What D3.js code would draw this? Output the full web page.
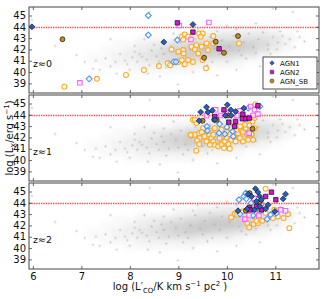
<!DOCTYPE html>
<html><head><meta charset="utf-8">
<script src="https://cdn.jsdelivr.net/npm/d3@7"></script>
<style>body{margin:0;background:#fff}svg{display:block}text{font-family:"DejaVu Sans",sans-serif}</style>
</head><body><svg id="c" width="327" height="299"></svg>
<script>
// ---------- data ----------
const xTicks = [6,7,8,9,10,11];
const yTicks = [39,40,41,42,43,44,45];
const panelLabels = ["z\u22480","z\u22481","z\u22482"];
const xLimit = 44; // red dotted line
// background density (shared by all panels)
const fogCols = [7.0,7.25,7.5,7.75,8.0,8.25,8.5,8.75,9.0,9.25,9.5,9.75,10.0,10.25,10.5,10.75,11.0,11.25,11.5];
const fogRows = [44.0,43.5,43.0,42.5,42.0,41.5,41.0,40.5,40.0];
const fogDensity = [
 [0,0,0,0,0,0,0,0,0,0,0,1,1,1,1,1,1,0,0],
 [0,0,0,0,0,0,0,0,1,1,2,2,3,3,3,3,2,1,0],
 [0,0,0,0,0,1,1,1,2,3,4,5,5,5,5,5,4,2,1],
 [0,0,0,1,1,2,3,4,5,6,7,8,8,8,7,6,4,2,0],
 [0,0,1,1,2,3,4,6,7,8,9,9,9,8,7,5,3,1,0],
 [0,1,1,2,3,4,5,6,7,8,8,7,6,5,4,2,1,0,0],
 [0,1,1,2,2,3,4,5,5,5,4,3,3,2,1,1,0,0,0],
 [0,0,1,1,1,2,2,2,2,2,2,1,1,1,0,0,0,0,0],
 [0,0,0,0,1,1,1,1,1,1,0,0,0,0,0,0,0,0,0]
];
const bgPoints = [[5.98,44.6],[6.46,42.3],[7.07,40.9],[7.38,40.2],[7.73,39.85],[8.37,39.85],[8.99,38.9],[8.41,45.3],[10.95,45.6],[11.36,45.3],[11.03,42.0],[11.3,42.9],[10.68,40.5],[7.6,42.9],[8.25,41.35],[8.0,40.2],[8.62,39.6],[9.3,40.0],[7.24,40.3],[7.9,41.0],[8.1,41.8],[8.5,42.4],[8.8,41.0],[9.1,40.5],[9.6,40.6],[10.0,40.9],[10.4,41.2],[10.9,41.6],[11.2,42.5],[11.5,43.1],[11.1,43.6],[10.6,44.3],[10.0,44.1],[9.4,43.8],[8.9,43.4],[8.3,42.9],[7.8,41.6],[7.5,41.2],[9.8,39.7],[6.9,41.5],[11.6,42.7],[10.2,40.2],
 [8.05,41.3],[8.2,41.6],[8.35,41.1],[8.45,41.9],[8.55,41.4],[8.65,42.1],[8.7,41.6],[8.85,42.3],[8.95,41.8],[9.05,42.6],[9.15,41.4],[9.25,42.0],[9.35,42.9],[9.45,41.7],[9.55,42.4],[9.65,43.1],[9.75,42.1],[9.85,41.6],[9.9,42.8],[10.05,42.3],[10.15,43.2],[10.25,41.9],[10.35,42.6],[10.45,43.4],[10.55,42.2],[10.65,42.9],[10.75,43.5],[10.85,42.4],[10.95,43.1],[11.05,42.6],[11.15,43.2],[7.7,40.9],[7.95,40.7],[8.15,40.9],[8.4,40.6],[8.6,40.9],[8.75,40.4],[9.0,41.1],[9.2,40.9],[9.5,41.2],[9.7,40.9],[10.3,41.5],[10.6,41.7],[10.85,42.0],[11.4,42.2],[11.45,43.6],[10.2,43.8],[9.8,43.6],[9.3,43.3],[8.7,42.8],[8.1,42.3],[7.3,41.0],[7.6,40.5]];

// z~0
const z0_AGN1_filled = [[5.98,44.0],[8.70,42.65],[9.30,44.2]];
const z0_AGN1_open = [[8.38,45.0],[8.38,43.27],[7.16,39.4],[8.98,42.83],[8.90,40.9],[8.95,40.9]];
const z0_AGN2_filled = [[8.98,44.35],[9.30,43.53],[9.84,42.06]];
const z0_AGN2_open = [[6.97,39.05],[9.02,44.12],[9.63,44.38],[9.26,42.88]];
const z0_SB_filled = [[6.61,42.9],[9.77,42.68],[10.23,43.18],[9.94,41.7],[9.53,41.26]];
const z0_SB_open = [[6.65,38.7],[7.32,39.4],[7.92,39.74],[8.29,40.18],[8.60,40.53],[8.78,40.77],[9.07,43.12],[9.13,43.33],[9.10,42.88],[9.20,43.12],[9.43,43.41],[9.50,43.41],[9.46,43.12],[9.72,43.18],[9.37,42.38],[9.48,42.24],[9.58,42.53],[9.27,42.24],[9.34,42.0],[9.72,42.53],[9.10,41.94],[8.86,42.0],[9.0,41.8],[9.11,41.65],[8.83,40.6],[9.0,40.9],[9.07,41.06],[9.20,41.06],[9.30,40.9],[9.13,40.7],[9.50,41.06],[9.57,40.33],[10.25,42.53],[9.61,41.94],[9.41,41.65]];

// z~1
const z1_AGN1_filled = [[9.58,44.68],[9.46,44.24],[9.61,44.24],[9.70,44.38],[10.01,44.88],[10.08,44.44],[10.18,44.29],[10.35,44.59],[9.43,43.47],[9.75,43.56],[9.97,43.94],[10.09,43.94]];
const z1_AGN1_open = [[10.68,44.73],[9.59,42.97],[9.60,42.59],[9.85,43.18],[9.84,42.38],[9.96,42.3],[10.12,42.53],[10.13,42.09],[10.0,42.91],[10.44,44.59]];
const z1_AGN2_filled = [[9.94,44.44],[10.64,44.8],[9.75,43.85],[10.04,43.35],[10.18,43.41],[10.32,43.65],[10.39,43.65],[10.46,43.71],[10.16,42.97],[10.33,44.06]];
const z1_AGN2_open = [[9.77,44.44],[10.27,44.35],[10.49,44.73],[10.57,44.44],[9.58,43.91],[9.87,43.94],[9.99,44.15],[10.21,43.94],[10.54,43.94],[10.64,44.06],[10.46,42.38]];
const z1_SB_filled = [[9.50,43.47],[9.74,43.56],[9.79,43.56],[10.53,42.76],[10.02,43.94]];
const z1_SB_open = [[9.27,42.18],[9.34,42.24],[9.43,42.38],[9.30,43.56],[9.37,43.27],[9.51,42.82],[9.44,41.94],[9.39,41.71],[9.43,41.41],[9.54,42.09],[9.63,42.29],[9.68,41.94],[9.72,41.65],[9.75,41.35],[9.82,41.21],[9.89,41.35],[9.96,41.65],[10.03,41.41],[10.09,41.79],[10.16,42.09],[10.23,42.38],[10.30,42.59],[10.39,42.82],[10.46,43.06],[10.53,43.41],[10.57,43.71],[10.59,44.94],[10.27,41.94],[10.33,41.65],[10.44,41.79],[10.54,41.79],[10.57,42.82],[9.65,42.59],[9.75,42.82],[9.72,42.24],[9.89,42.68],[9.99,42.0],[10.06,42.29],[10.20,42.68],[10.27,42.97],[10.37,43.12],[10.42,42.29],[10.51,42.29],[9.48,42.47],[9.58,41.65],[9.65,41.35],[9.85,41.94],[9.94,41.06],[10.06,41.0],[10.18,41.65],[10.09,42.82],[10.33,42.47],[9.37,40.83],[9.99,42.53],[9.34,43.56],[9.25,42.23]];

// z~2
const z2_AGN1_filled = [[10.59,45.24],[10.64,44.94],[10.51,44.56],[10.44,44.77],[10.68,44.56],[10.71,44.27],[10.61,44.12],[10.85,43.82],[10.80,43.47],[10.99,43.24],[11.16,44.35],[11.21,44.77],[10.23,43.3],[10.42,43.47],[10.57,43.38],[10.68,43.68]];
const z2_AGN1_open = [[10.25,44.27],[10.35,44.56],[10.39,44.85],[10.40,44.35],[10.54,42.88],[10.83,42.56],[10.27,43.0],[10.68,43.24],[10.90,42.94],[11.02,43.09],[10.50,43.97]];
const z2_AGN2_filled = [[10.92,44.94],[11.01,44.27],[10.80,44.56],[10.47,43.59],[10.48,43.38],[10.61,43.68],[10.71,43.38]];
const z2_AGN2_open = [[10.56,44.41],[11.11,43.38],[11.21,43.3],[10.37,42.56],[10.66,42.88],[10.46,42.88],[10.71,43.97]];
const z2_SB_filled = [[10.47,44.85],[10.68,44.06],[10.39,43.3]];
const z2_SB_open = [[10.80,45.24],[10.09,42.71],[10.16,43.0],[10.42,42.21],[10.46,41.82],[10.55,42.12],[10.64,42.21],[10.73,42.41],[10.95,42.65],[11.05,42.79],[11.17,42.65],[11.26,43.0],[11.29,41.76],[10.32,43.24],[10.21,42.94],[10.98,43.38],[10.61,42.41],[10.80,43.09]];

const legendNames = ["AGN1","AGN2","AGN_SB"];

// ---------- styles ----------
const sty = {
  AGN1:{shape:d3.symbolDiamond2, size:22, fill:"#1f5fc8", open:"#4d94ff"},
  AGN2:{shape:d3.symbolSquare, size:20, fill:"#d414d4", open:"#ff5cff"},
  SB:{shape:d3.symbolCircle, size:19, fill:"#c98b16", open:"#ffab1f"}
};
const panels = [
  {AGN1f:z0_AGN1_filled,AGN1o:z0_AGN1_open,AGN2f:z0_AGN2_filled,AGN2o:z0_AGN2_open,SBf:z0_SB_filled,SBo:z0_SB_open},
  {AGN1f:z1_AGN1_filled,AGN1o:z1_AGN1_open,AGN2f:z1_AGN2_filled,AGN2o:z1_AGN2_open,SBf:z1_SB_filled,SBo:z1_SB_open},
  {AGN1f:z2_AGN1_filled,AGN1o:z2_AGN1_open,AGN2f:z2_AGN2_filled,AGN2o:z2_AGN2_open,SBf:z2_SB_filled,SBo:z2_SB_open}
];

const svg = d3.select("#c");
const L=29, R=319, H=86, tops=[7,95,183];
const x = d3.scaleLinear().domain([5.92,11.9]).range([L,R]);
const defs = svg.append("defs");
defs.append("filter").attr("id","blur").attr("x","-20%").attr("y","-50%").attr("width","140%").attr("height","200%")
  .append("feGaussianBlur").attr("stdDeviation","2.2");

panels.forEach((p,i)=>{
  const top=tops[i];
  const y = d3.scaleLinear().domain([38.15,45.75]).range([top+H,top]);
  defs.append("clipPath").attr("id","cp"+i).append("rect").attr("x",L).attr("y",top).attr("width",R-L).attr("height",H);
  const g = svg.append("g").attr("clip-path",`url(#cp${i})`);
  // fog
  const fog = g.append("g").attr("filter","url(#blur)");
  fogRows.forEach((ry,ri)=>fogCols.forEach((cx,ci)=>{
    const d=fogDensity[ri][ci]; if(!d) return;
    fog.append("rect").attr("x",x(cx-0.125)).attr("y",y(ry+0.25))
      .attr("width",x(cx+0.125)-x(cx-0.125)).attr("height",y(ry-0.25)-y(ry+0.25))
      .attr("fill","#8a8a8a").attr("opacity",d*0.052);
  }));
  // crosses
  g.append("g").selectAll("path").data(bgPoints).join("path")
    .attr("d",d=>{const px=x(d[0]),py=y(d[1]);return `M${px-1.5},${py}h3M${px},${py-1.5}v3`;})
    .attr("stroke","#a0a0a0").attr("stroke-width",0.6).attr("opacity",0.55);
  // red line
  g.append("line").attr("x1",L).attr("x2",R).attr("y1",Math.round(y(xLimit))+0.5).attr("y2",Math.round(y(xLimit))+0.5)
    .attr("stroke","#ff3030").attr("stroke-width",1.4).attr("stroke-dasharray","1.4,1").attr("opacity",0.85);
  const draw=(data,key,filled)=>{
    const s=sty[key];
    g.append("g").selectAll("path").data(data).join("path")
      .attr("transform",d=>`translate(${x(d[0])},${y(d[1])})`)
      .attr("d",d3.symbol(s.shape,s.size))
      .attr("fill",filled?s.fill:"#fff").attr("fill-opacity",filled?1:0.6)
      .attr("stroke",filled?"#111":s.open).attr("stroke-width",filled?0.7:1.1);
  };
  draw(p.SBo,"SB",false); draw(p.AGN1o,"AGN1",false); draw(p.AGN2o,"AGN2",false);
  draw(p.SBf,"SB",true); draw(p.AGN2f,"AGN2",true); draw(p.AGN1f,"AGN1",true);

  // axes
  const ax = svg.append("g").attr("class","ax");
  ax.append("g").attr("transform",`translate(${L},0)`).call(d3.axisLeft(y).tickValues(yTicks).tickSize(-3).tickPadding(3).tickFormat(d3.format("d")));
  ax.append("g").attr("transform",`translate(${R},0)`).call(d3.axisRight(y).tickValues(yTicks).tickSize(-3).tickFormat(""));
  ax.append("g").attr("transform",`translate(0,${top+H})`).call(d3.axisBottom(x).tickValues(xTicks).tickSize(-3).tickPadding(4).tickFormat(i==2?d3.format("d"):""));
  ax.append("g").attr("transform",`translate(0,${top})`).call(d3.axisTop(x).tickValues(xTicks).tickSize(-3).tickFormat(""));
  ax.selectAll(".domain").remove();
  ax.selectAll(".tick line").attr("stroke","#444").attr("stroke-width",0.8);
  ax.selectAll(".tick text").attr("font-size",10).attr("fill","#111").attr("font-family","DejaVu Sans");
  svg.append("rect").attr("x",L).attr("y",top).attr("width",R-L).attr("height",H)
    .attr("fill","none").attr("stroke","#444").attr("stroke-width",1);
  svg.append("text").attr("x",33).attr("y",top+59.5).attr("font-size",9.5).attr("fill","#111").text(panelLabels[i]);

  if(i===0){
    const lg=svg.append("g");
    lg.append("rect").attr("x",263).attr("y",57).attr("width",54).attr("height",32)
      .attr("fill","#fff").attr("stroke","#222").attr("stroke-width",0.8);
    ["AGN1","AGN2","SB"].forEach((k,j)=>{
      const yy=63+j*9;
      lg.append("path").attr("transform",`translate(272,${yy})`).attr("d",d3.symbol(sty[k].shape,13))
        .attr("fill",sty[k].fill).attr("stroke","#222").attr("stroke-width",0.5);
      lg.append("text").attr("x",280).attr("y",yy+2.5).attr("font-size",7).attr("fill","#111").text(legendNames[j]);
    });
  }
});

// axis titles
const xt = svg.append("text").attr("x",170).attr("y",290).attr("text-anchor","middle").attr("font-size",10).attr("fill","#111");
xt.append("tspan").text("log (L\u2032");
xt.append("tspan").attr("font-size",7).attr("dy",2.5).text("CO");
xt.append("tspan").attr("dy",-2.5).text("/K km s");
xt.append("tspan").attr("font-size",7).attr("dy",-4).text("\u22121");
xt.append("tspan").attr("dy",4).text(" pc");
xt.append("tspan").attr("font-size",7).attr("dy",-4).text("2");
xt.append("tspan").attr("dy",4).text(" )");

const yt = svg.append("text").attr("transform","translate(13,138) rotate(-90)").attr("text-anchor","middle").attr("font-size",10).attr("fill","#111");
yt.append("tspan").text("log (L");
yt.append("tspan").attr("font-size",7).attr("dy",2.5).text("X");
yt.append("tspan").attr("dy",-2.5).text("/erg s");
yt.append("tspan").attr("font-size",7).attr("dy",-4).text("\u22121");
yt.append("tspan").attr("dy",4).text(")");
</script></body></html>
